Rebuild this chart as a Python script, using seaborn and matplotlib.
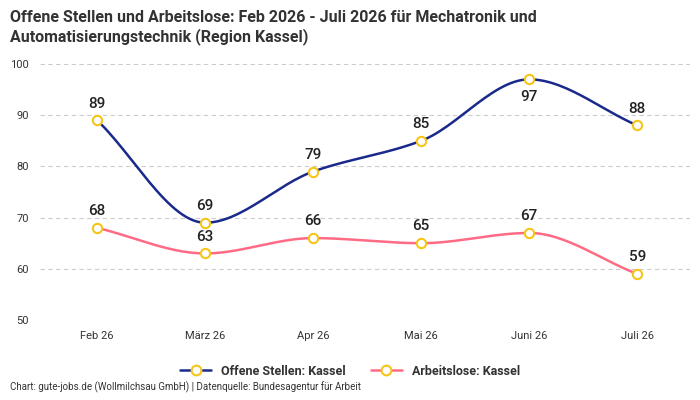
import numpy as np
import pandas as pd
import seaborn as sns
import matplotlib
matplotlib.use("Agg")
import matplotlib.pyplot as plt
from matplotlib.lines import Line2D

months = ["Feb 26", "März 26", "Apr 26", "Mai 26", "Juni 26", "Juli 26"]
offene = [89, 69, 79, 85, 97, 88]
arbeitslose = [68, 63, 66, 65, 67, 59]

sns.set_theme(style="white")
plt.rcParams['font.family'] = ['Roboto', 'DejaVu Sans']

fig = plt.figure(figsize=(7, 4), dpi=100)
ax = fig.add_axes([0.057, 0.2, 0.929, 0.64])

def smooth(xs, ys, n=30):
    xs = np.asarray(xs, float); ys = np.asarray(ys, float)
    # monotone cubic (Fritsch-Carlson) for drawing the curve
    h = np.diff(xs); d = np.diff(ys) / h
    m = np.zeros(len(xs))
    m[0], m[-1] = d[0], d[-1]
    for i in range(1, len(xs) - 1):
        m[i] = 0 if d[i-1] * d[i] <= 0 else 2 / (1/d[i-1] + 1/d[i])
    X, Y = [], []
    for i in range(len(xs) - 1):
        t = np.linspace(0, 1, n)
        h00 = 2*t**3 - 3*t**2 + 1; h10 = t**3 - 2*t**2 + t
        h01 = -2*t**3 + 3*t**2; h11 = t**3 - t**2
        X.append(xs[i] + t*h[i])
        Y.append(h00*ys[i] + h10*h[i]*m[i] + h01*ys[i+1] + h11*h[i]*m[i+1])
    return np.concatenate(X), np.concatenate(Y)

x = np.arange(len(months))
series = [("Offene Stellen: Kassel", offene, "#1a2a8c"),
          ("Arbeitslose: Kassel", arbeitslose, "#ff6b85")]
for name, vals, col in series:
    sx, sy = smooth(x, vals)
    sns.lineplot(x=sx, y=sy, ax=ax, color=col, lw=1.8, sort=False)
    ax.scatter(x, vals, s=45, facecolor="white", edgecolor="#f5c518", lw=1.5, zorder=5)

for i, v in enumerate(offene):
    if i == 4:
        ax.annotate(str(v), (i, v), xytext=(0, -8), textcoords="offset points",
                    ha="center", va="top", fontsize=11, color="#222", fontweight="medium")
    else:
        ax.annotate(str(v), (i, v), xytext=(0, 7), textcoords="offset points",
                    ha="center", va="bottom", fontsize=11, color="#222", fontweight="medium")
for i, v in enumerate(arbeitslose):
    ax.annotate(str(v), (i, v), xytext=(0, 7), textcoords="offset points",
                ha="center", va="bottom", fontsize=11, color="#222", fontweight="medium")

ax.set_xlim(-0.53, 5.49)
ax.set_ylim(50, 100)
ax.set_yticks([50, 60, 70, 80, 90, 100])
ax.set_xticks(x)
ax.set_xticklabels(months)
ax.tick_params(axis="both", labelsize=8, colors="#333", length=0, pad=8)
ax.grid(axis="y", ls=(0, (4, 3)), color="#cccccc", lw=0.8)
for s in ax.spines.values():
    s.set_visible(False)
ax.set_xlabel(""); ax.set_ylabel("")

handles = [Line2D([0], [0], color=c, lw=1.8, marker="o", markersize=7,
                  markerfacecolor="white", markeredgecolor="#f5c518", markeredgewidth=1.5)
           for _, _, c in series]
leg = fig.legend(handles, [n for n, _, _ in series], loc="center", bbox_to_anchor=(0.5, 0.072),
                 ncol=2, frameon=False, fontsize=9, handlelength=2.5, columnspacing=2)
for t in leg.get_texts():
    t.set_fontweight("bold"); t.set_color("#333")

fig.text(0.014, 0.975, "Offene Stellen und Arbeitslose: Feb 2026 - Juli 2026 für Mechatronik und\nAutomatisierungstechnik (Region Kassel)",
         ha="left", va="top", fontsize=11.5, fontweight="bold", color="#333", linespacing=1.25)
fig.text(0.014, 0.018, "Chart: gute-jobs.de (Wollmilchsau GmbH) | Datenquelle: Bundesagentur für Arbeit",
         ha="left", va="bottom", fontsize=7, color="#333")

fig.savefig("out.png", dpi=100)
